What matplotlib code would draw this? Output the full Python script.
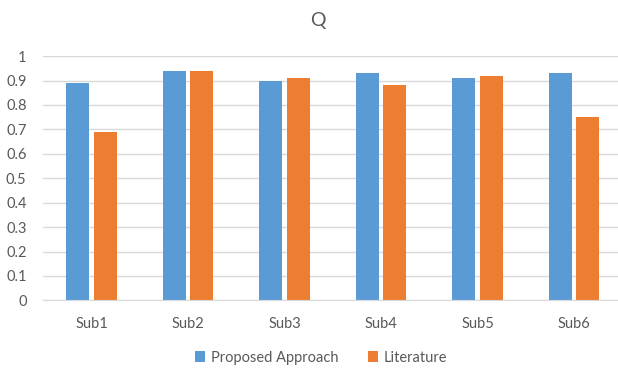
import numpy as np
import matplotlib.pyplot as plt

# Data
subjects = ['Sub1', 'Sub2', 'Sub3', 'Sub4', 'Sub5', 'Sub6']
proposed = [0.89, 0.94, 0.90, 0.93, 0.91, 0.93]
literature = [0.69, 0.94, 0.91, 0.88, 0.92, 0.75]
yticks = [0, 0.1, 0.2, 0.3, 0.4, 0.5, 0.6, 0.7, 0.8, 0.9, 1]
ytick_labels = ['0', '0.1', '0.2', '0.3', '0.4', '0.5', '0.6', '0.7', '0.8', '0.9', '1']

plt.rcParams['font.family'] = ['Lato', 'DejaVu Sans']
text_col = '#595959'
grid_col = '#d9d9d9'

fig = plt.figure(figsize=(6.18, 3.69), dpi=100)
ax = fig.add_axes([0.07, 0.186, 0.937, 0.662])

x = np.arange(len(subjects))
w = 0.235
gap = 0.05
ax.bar(x - (w + gap) / 2, proposed, width=w, color='#5b9bd5', label='Proposed Approach', zorder=3)
ax.bar(x + (w + gap) / 2, literature, width=w, color='#ed7d31', label='Literature', zorder=3)

ax.set_xlim(-0.5, len(subjects) - 0.5)
ax.set_ylim(0, 1)
ax.set_yticks(yticks)
ax.set_yticklabels(ytick_labels)
ax.set_xticks(x)
ax.set_xticklabels(subjects)
ax.tick_params(axis='both', length=0, colors=text_col, labelsize=10.5)
ax.tick_params(axis='y', pad=12)
ax.tick_params(axis='x', pad=12)
ax.yaxis.grid(True, color=grid_col, linewidth=1, zorder=0)
for s in ['top', 'right', 'left']:
    ax.spines[s].set_visible(False)
ax.spines['bottom'].set_color(grid_col)
ax.spines['bottom'].set_zorder(4)

fig.text(0.515, 0.945, 'Q', ha='center', va='center', fontsize=14, color=text_col)

ax.legend(loc='center', bbox_to_anchor=(0.48, -0.234), ncol=2, frameon=False,
          fontsize=10.5, labelcolor=text_col, handlelength=0.7, handleheight=0.7,
          handletextpad=0.4, columnspacing=2.0)

fig.savefig('out.png', dpi=100)
